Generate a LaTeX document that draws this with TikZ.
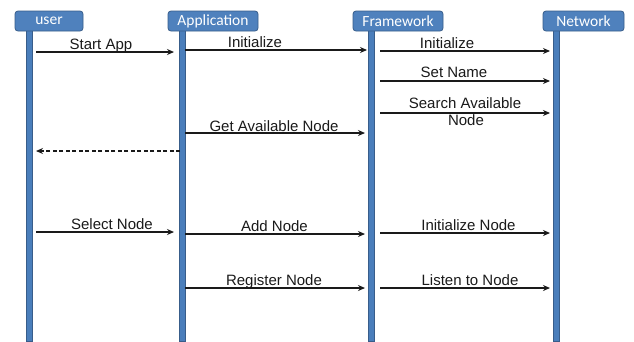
\documentclass[tikz,border=0pt]{standalone}
\usepackage{fontspec}
\setmainfont{Liberation Sans}
\newfontfamily\headfont{Carlito}
\usetikzlibrary{arrows.meta}
\definecolor{hblue}{HTML}{4F81BD}
\definecolor{hborder}{HTML}{385D8A}
\definecolor{lblue}{HTML}{4A7EBB}
\definecolor{ink}{HTML}{1A1A1A}
\tikzset{
  head/.style={draw=hborder, fill=hblue, line width=0.8pt, rounded corners=3pt,
    text=white, font=\headfont\fontsize{15.5}{16}\selectfont, inner sep=0pt},
  life/.style={fill=lblue, draw=hborder, line width=0.4pt},
  msg/.style={draw=ink, line width=1.3pt, -{Stealth[length=7pt,width=6pt]}},
  ret/.style={draw=ink, line width=1.3pt, dashed, dash pattern=on 4pt off 2.5pt, -{Stealth[length=7pt,width=6pt]}},
  lbl/.style={font=\fontsize{15}{16}\selectfont, text=ink, anchor=base, inner sep=0pt}
}
\begin{document}
\begin{tikzpicture}[x=1pt,y=-1pt]
\useasboundingbox[fill=white] (0,0) rectangle (634,341);
% lifelines
\fill[life] (26,30) rectangle (32,341);
\fill[life] (179,30) rectangle (185,341);
\fill[life] (368.5,30) rectangle (374.5,341);
\fill[life] (553,30) rectangle (559,341);
% headers
\node[head, minimum width=68pt, minimum height=20pt] (user) at (49,21) {user};
\node[head, minimum width=90pt, minimum height=20pt] (app) at (213,21) {Application};
\node[head, minimum width=90pt, minimum height=20pt] (fw) at (398,21) {Framework};
\node[head, minimum width=81pt, minimum height=20pt] (net) at (583.5,21) {Network};
% coordinates
\coordinate (u1) at (36,52);   \coordinate (a1) at (174,52);
\coordinate (a2) at (185,50);  \coordinate (f2) at (367,50);
\coordinate (f3) at (380,51);  \coordinate (n3) at (550,51);
\coordinate (f4) at (380,81);  \coordinate (n4) at (550,81);
\coordinate (f5) at (380,113); \coordinate (n5) at (550,113);
\coordinate (a6) at (185,133); \coordinate (f6) at (365,133);
\coordinate (a7) at (180,151); \coordinate (u7) at (36,151);
\coordinate (u8) at (36,232);  \coordinate (a8) at (174,232);
\coordinate (a9) at (185,234); \coordinate (f9) at (365,234);
\coordinate (f10) at (380,233);\coordinate (n10) at (550,233);
\coordinate (a11) at (185,288);\coordinate (f11) at (365,288);
\coordinate (f12) at (380,288);\coordinate (n12) at (550,288);
% messages
\draw[msg] (u1) -- (a1);
\draw[msg] (a2) -- (f2);
\draw[msg] (f3) -- (n3);
\draw[msg] (f4) -- (n4);
\draw[msg] (f5) -- (n5);
\draw[msg] (a6) -- (f6);
\draw[ret] (a7) -- (u7);
\draw[msg] (u8) -- (a8);
\draw[msg] (a9) -- (f9);
\draw[msg] (f10) -- (n10);
\draw[msg] (a11) -- (f11);
\draw[msg] (f12) -- (n12);
% labels
\node[lbl] (l1) at (101,49.3) {Start App};
\node[lbl] (l2) at (255,47.7) {Initialize};
\node[lbl] (l3) at (447,48.5) {Initialize};
\node[lbl] (l4) at (454,77.7) {Set Name};
\node[lbl] (l5a) at (465,108.7) {Search Available};
\node[lbl] (l5b) at (466,125.7) {Node};
\node[lbl] (l6) at (274,131) {Get Available Node};
\node[lbl] (l8) at (112,229) {Select Node};
\node[lbl] (l9) at (274.5,231.7) {Add Node};
\node[lbl] (l10) at (468.5,230.7) {Initialize Node};
\node[lbl] (l11) at (274,285) {Register Node};
\node[lbl] (l12) at (470,285) {Listen to Node};
\end{tikzpicture}
\end{document}
